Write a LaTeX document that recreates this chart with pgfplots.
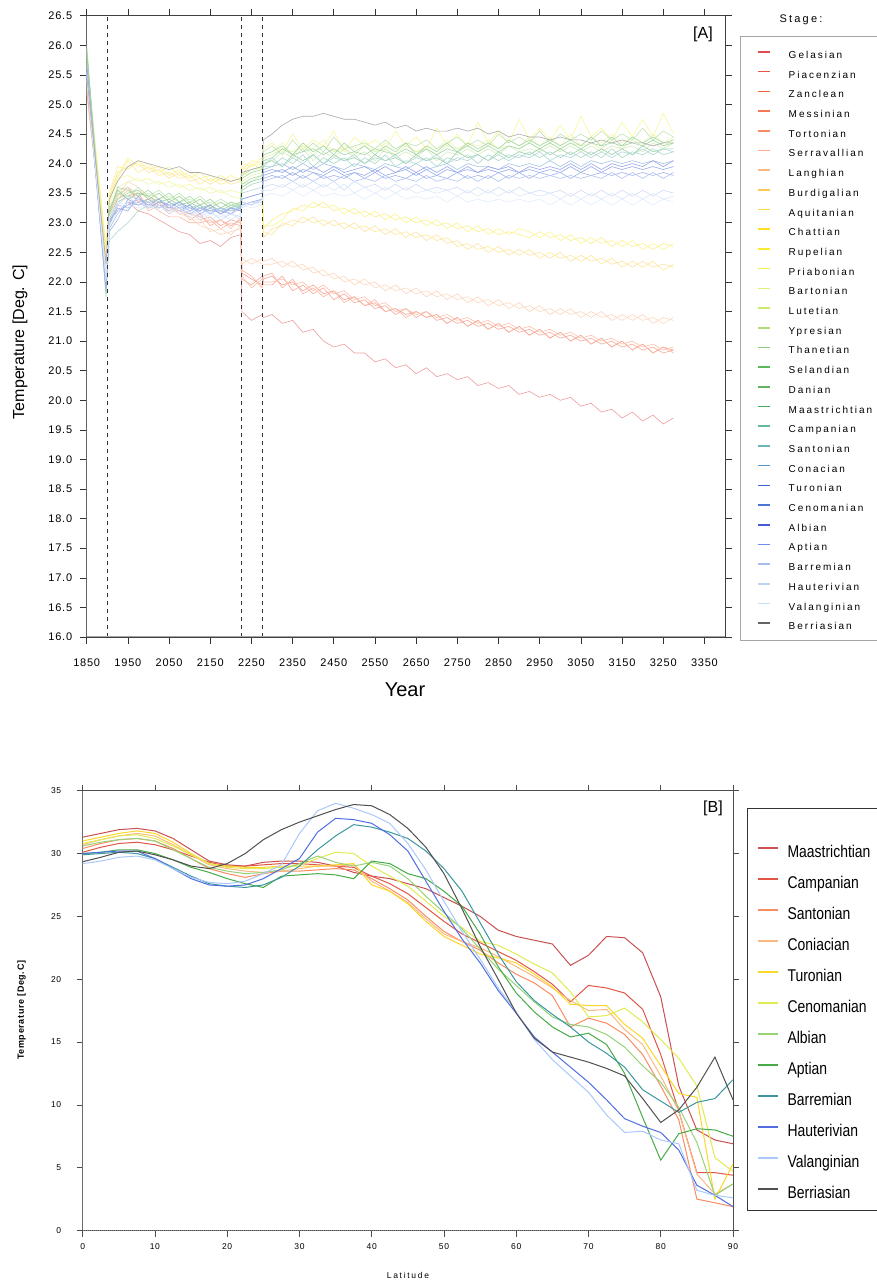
\documentclass[border=0pt]{standalone}
\usepackage{pgfplots}
\pgfplotsset{compat=1.18}
\usepackage{pgfplotstable}
\usepackage{fontspec}
\setmainfont{Liberation Sans}
\newfontfamily\tkfont[LetterSpace=7]{Liberation Sans}
\newfontfamily\lgfont[LetterSpace=20]{Liberation Sans}
\newfontfamily\nrfont[FakeStretch=0.82]{Liberation Sans}

% stage colours, top panel
\definecolor{cGel}{RGB}{225,75,75}
\definecolor{cPia}{RGB}{235,85,65}
\definecolor{cZan}{RGB}{240,95,70}
\definecolor{cMes}{RGB}{245,120,85}
\definecolor{cTor}{RGB}{248,140,100}
\definecolor{cSer}{RGB}{250,175,140}
\definecolor{cLan}{RGB}{250,185,130}
\definecolor{cBur}{RGB}{250,200,90}
\definecolor{cAqu}{RGB}{250,215,60}
\definecolor{cCha}{RGB}{250,225,40}
\definecolor{cRup}{RGB}{248,235,50}
\definecolor{cPri}{RGB}{240,240,70}
\definecolor{cBar}{RGB}{225,238,120}
\definecolor{cLut}{RGB}{205,232,110}
\definecolor{cYpr}{RGB}{175,220,130}
\definecolor{cTha}{RGB}{140,205,120}
\definecolor{cSel}{RGB}{90,185,90}
\definecolor{cDan}{RGB}{95,180,100}
\definecolor{cMaa}{RGB}{70,170,90}
\definecolor{cCam}{RGB}{100,185,150}
\definecolor{cSan}{RGB}{110,180,185}
\definecolor{cCon}{RGB}{90,150,200}
\definecolor{cTur}{RGB}{60,100,210}
\definecolor{cCen}{RGB}{80,115,215}
\definecolor{cAlb}{RGB}{70,90,215}
\definecolor{cApt}{RGB}{110,140,235}
\definecolor{cBrm}{RGB}{165,190,240}
\definecolor{cHau}{RGB}{190,210,245}
\definecolor{cVal}{RGB}{200,220,250}
\definecolor{cBer}{RGB}{100,100,100}
% bottom panel
\definecolor{bMaa}{RGB}{200,80,80}
\definecolor{bCam}{RGB}{225,85,70}
\definecolor{bSan}{RGB}{250,140,100}
\definecolor{bCon}{RGB}{250,185,130}
\definecolor{bTur}{RGB}{250,215,40}
\definecolor{bCen}{RGB}{225,235,80}
\definecolor{bAlb}{RGB}{150,210,120}
\definecolor{bApt}{RGB}{70,170,70}
\definecolor{bBrm}{RGB}{60,150,160}
\definecolor{bHau}{RGB}{80,110,225}
\definecolor{bVal}{RGB}{170,200,250}
\definecolor{bBer}{RGB}{80,80,80}

\pgfplotstableread{
x gel pia zan mes tor
1850 25.40 25.30 25.25 25.35 25.20
1897 22.20 22.35 22.25 22.40 22.30
1905 23.05 23.15 23.00 23.20 23.10
1925 23.20 23.45 23.35 23.50 23.40
1950 23.35 23.60 23.45 23.40 23.55
1975 23.20 23.35 23.50 23.30 23.45
2000 23.15 23.40 23.25 23.35 23.20
2025 23.05 23.25 23.35 23.20 23.30
2050 22.95 23.30 23.15 23.10 23.25
2075 22.85 23.15 23.25 23.10 23.20
2100 22.80 23.20 23.05 23.00 23.15
2125 22.65 23.05 23.15 23.00 23.10
2150 22.70 23.10 22.95 23.05 23.00
2175 22.60 22.95 23.05 22.90 23.05
2200 22.75 23.05 22.95 23.00 22.90
2224 22.80 23.00 23.05 22.95 23.10
2227 21.50 22.15 22.05 22.20 22.10
2250 21.35 22.05 21.95 22.10 21.90
2276 21.45 21.95 22.10 21.90 22.05
2279 21.40 22.05 21.95 22.10 22.00
2300 21.45 22.10 21.95 22.15 22.00
2325 21.30 21.95 22.10 21.90 22.05
2350 21.35 22.00 21.85 22.05 21.95
2375 21.15 21.85 21.95 21.80 22.00
2400 21.20 21.95 21.80 21.90 21.85
2425 21.00 21.80 21.90 21.75 21.95
2450 20.90 21.85 21.70 21.85 21.80
2475 20.95 21.70 21.80 21.65 21.85
2500 20.80 21.75 21.65 21.75 21.70
2525 20.80 21.60 21.70 21.60 21.75
2550 20.65 21.65 21.55 21.70 21.60
2575 20.70 21.50 21.60 21.50 21.65
2600 20.55 21.55 21.45 21.55 21.50
2625 20.60 21.45 21.55 21.40 21.55
2650 20.45 21.50 21.40 21.50 21.45
2675 20.55 21.40 21.50 21.40 21.50
2700 20.40 21.45 21.35 21.45 21.40
2725 20.45 21.30 21.40 21.30 21.45
2750 20.35 21.40 21.30 21.40 21.35
2775 20.40 21.25 21.35 21.25 21.40
2800 20.25 21.35 21.25 21.35 21.30
2825 20.30 21.20 21.30 21.20 21.35
2850 20.20 21.30 21.20 21.30 21.25
2875 20.25 21.15 21.25 21.15 21.30
2900 20.10 21.25 21.15 21.25 21.20
2925 20.15 21.10 21.20 21.10 21.25
2950 20.05 21.20 21.10 21.20 21.15
2975 20.10 21.05 21.15 21.05 21.20
3000 20.00 21.15 21.05 21.15 21.10
3025 20.05 21.00 21.10 21.00 21.15
3050 19.90 21.10 21.00 21.10 21.05
3075 19.95 20.95 21.05 20.95 21.10
3100 19.80 21.05 20.95 21.05 21.00
3125 19.85 20.90 21.00 20.90 21.05
3150 19.70 21.00 20.90 21.00 20.95
3175 19.80 20.85 20.95 20.85 21.00
3200 19.65 20.95 20.85 20.95 20.90
3225 19.75 20.80 20.90 20.80 20.95
3250 19.60 20.90 20.80 20.90 20.85
3275 19.70 20.85 20.85 20.80 20.90
}\tNeo

\pgfplotstableread{
x ser lan bur aqu cha rup
1850 25.45 25.55 25.60 25.70 25.65 25.75
1897 22.45 22.35 22.55 22.50 22.45 22.60
1905 23.20 23.30 23.45 23.35 23.50 23.40
1925 23.55 23.45 23.85 23.75 23.95 23.80
1950 23.60 23.70 23.95 24.05 23.90 24.10
1975 23.50 23.60 24.00 23.85 24.05 23.95
2000 23.45 23.40 23.85 23.95 23.90 24.00
2025 23.30 23.40 23.90 23.80 23.95 23.85
2050 23.25 23.20 23.75 23.85 23.80 23.95
2075 23.15 23.25 23.85 23.75 23.90 23.80
2100 23.10 23.05 23.70 23.80 23.75 23.85
2125 22.95 23.05 23.75 23.65 23.85 23.75
2150 22.90 22.85 23.65 23.75 23.70 23.80
2175 22.80 22.90 23.75 23.65 23.80 23.70
2200 22.85 22.80 23.65 23.70 23.70 23.80
2224 22.90 22.95 23.70 23.75 23.75 23.70
2227 22.40 22.30 23.85 23.80 23.90 24.00
2250 22.30 22.40 23.90 24.00 24.05 23.95
2276 22.40 22.30 23.95 23.90 24.00 24.10
2279 22.35 22.30 22.75 22.85 22.90 22.95
2300 22.40 22.30 22.90 22.80 23.05 22.95
2325 22.25 22.35 22.95 23.00 23.15 23.05
2350 22.35 22.25 23.05 22.95 23.20 23.25
2375 22.20 22.30 23.00 23.10 23.30 23.20
2400 22.25 22.15 23.10 23.00 23.25 23.35
2425 22.10 22.20 22.95 23.05 23.35 23.25
2450 22.15 22.05 23.05 22.95 23.20 23.30
2475 22.00 22.10 22.90 23.00 23.25 23.15
2500 22.05 21.95 23.00 22.90 23.15 23.25
2525 21.95 22.05 22.85 22.95 23.20 23.10
2550 22.00 21.90 22.95 22.85 23.10 23.20
2575 21.85 21.95 22.80 22.90 23.15 23.05
2600 21.95 21.85 22.90 22.80 23.05 23.15
2625 21.80 21.90 22.75 22.85 23.10 23.00
2650 21.90 21.80 22.85 22.75 23.00 23.10
2675 21.75 21.85 22.70 22.80 23.05 22.95
2700 21.85 21.75 22.80 22.70 22.95 23.05
2725 21.70 21.80 22.65 22.75 23.00 22.90
2750 21.80 21.70 22.70 22.60 22.90 23.00
2775 21.65 21.75 22.55 22.65 22.95 22.85
2800 21.75 21.65 22.65 22.55 22.85 22.95
2825 21.60 21.70 22.50 22.60 22.90 22.80
2850 21.70 21.60 22.60 22.50 22.80 22.90
2875 21.55 21.65 22.45 22.55 22.85 22.80
2900 21.65 21.55 22.55 22.45 22.80 22.90
2925 21.50 21.60 22.45 22.55 22.75 22.85
2950 21.60 21.50 22.50 22.40 22.85 22.75
2975 21.45 21.55 22.40 22.50 22.75 22.85
3000 21.55 21.45 22.50 22.40 22.80 22.70
3025 21.45 21.55 22.35 22.45 22.70 22.80
3050 21.50 21.40 22.45 22.35 22.75 22.65
3075 21.40 21.50 22.35 22.45 22.65 22.75
3100 21.50 21.40 22.40 22.30 22.75 22.65
3125 21.35 21.45 22.30 22.40 22.60 22.70
3150 21.45 21.35 22.35 22.25 22.70 22.60
3175 21.35 21.45 22.25 22.35 22.60 22.70
3200 21.45 21.35 22.35 22.25 22.65 22.55
3225 21.30 21.40 22.25 22.35 22.55 22.65
3250 21.40 21.30 22.30 22.20 22.65 22.55
3275 21.35 21.40 22.25 22.30 22.60 22.65
}\tMid

\pgfplotstableread{
x pri bar lut ypr tha sel dan maa cam
1850 25.80 25.85 25.90 25.95 26.00 25.90 25.85 25.95 25.70
1897 22.20 22.10 22.00 21.90 21.95 22.05 21.85 21.75 22.00
1905 23.40 23.30 23.20 23.10 23.25 23.15 23.05 23.20 23.00
1925 23.75 23.60 23.55 23.45 23.50 23.60 23.40 23.55 23.35
1950 23.80 23.70 23.50 23.60 23.45 23.55 23.50 23.40 23.45
1975 23.70 23.75 23.55 23.45 23.60 23.45 23.55 23.50 23.40
2000 23.75 23.65 23.40 23.50 23.45 23.55 23.40 23.45 23.35
2025 23.65 23.70 23.50 23.40 23.55 23.40 23.50 23.35 23.40
2050 23.70 23.60 23.35 23.45 23.40 23.50 23.35 23.40 23.30
2075 23.60 23.65 23.45 23.35 23.50 23.35 23.45 23.30 23.35
2100 23.65 23.55 23.30 23.40 23.35 23.45 23.30 23.35 23.25
2125 23.55 23.60 23.40 23.30 23.45 23.30 23.40 23.25 23.30
2150 23.60 23.50 23.25 23.35 23.30 23.40 23.25 23.30 23.20
2175 23.50 23.55 23.35 23.25 23.40 23.25 23.35 23.20 23.25
2200 23.55 23.45 23.25 23.35 23.30 23.35 23.25 23.30 23.20
2224 23.50 23.40 23.30 23.25 23.35 23.30 23.35 23.25 23.30
2227 23.90 23.80 23.70 23.65 23.80 23.75 23.65 23.60 23.55
2250 23.95 23.85 23.80 23.70 23.90 23.85 23.75 23.70 23.65
2276 24.00 23.95 23.85 23.80 23.95 23.90 23.80 23.75 23.70
2279 24.25 24.15 24.10 24.05 24.20 24.15 24.05 24.00 23.95
2300 24.35 24.20 24.15 24.05 24.30 24.20 24.10 24.05 23.95
2325 24.20 24.35 24.25 24.20 24.15 24.30 24.25 23.95 24.10
2350 24.50 24.15 24.20 24.10 24.40 24.15 24.15 24.15 24.00
2375 24.25 24.30 24.30 24.25 24.20 24.35 24.20 24.05 24.15
2400 24.40 24.25 24.15 24.05 24.35 24.20 24.25 24.15 23.95
2425 24.30 24.40 24.30 24.20 24.20 24.30 24.15 24.00 24.10
2450 24.55 24.20 24.20 24.10 24.45 24.15 24.25 24.15 24.00
2475 24.20 24.30 24.25 24.25 24.25 24.35 24.15 24.05 24.10
2500 24.45 24.25 24.15 24.10 24.30 24.20 24.20 24.10 23.95
2525 24.30 24.40 24.30 24.20 24.35 24.30 24.15 24.00 24.10
2550 24.40 24.20 24.20 24.05 24.25 24.15 24.25 24.15 24.00
2575 24.25 24.35 24.25 24.25 24.40 24.30 24.20 24.05 24.15
2600 24.55 24.25 24.15 24.10 24.25 24.20 24.15 24.10 23.95
2625 24.30 24.35 24.30 24.20 24.35 24.35 24.25 24.00 24.05
2650 24.45 24.20 24.20 24.10 24.30 24.15 24.15 24.15 24.00
2675 24.25 24.30 24.25 24.25 24.40 24.30 24.25 24.05 24.10
2700 24.60 24.25 24.15 24.05 24.25 24.20 24.15 24.10 23.95
2725 24.30 24.40 24.30 24.20 24.35 24.35 24.25 24.00 24.10
2750 24.50 24.25 24.25 24.15 24.45 24.20 24.20 24.20 24.05
2775 24.30 24.35 24.30 24.25 24.30 24.35 24.30 24.10 24.15
2800 24.70 24.30 24.20 24.15 24.40 24.25 24.20 24.15 24.00
2825 24.35 24.40 24.35 24.25 24.30 24.35 24.30 24.05 24.15
2850 24.55 24.25 24.25 24.15 24.50 24.25 24.20 24.20 24.05
2875 24.35 24.40 24.30 24.30 24.35 24.40 24.30 24.10 24.15
2900 24.75 24.30 24.25 24.20 24.45 24.30 24.25 24.20 24.10
2925 24.40 24.45 24.35 24.25 24.35 24.40 24.35 24.15 24.20
2950 24.60 24.30 24.25 24.20 24.55 24.30 24.25 24.25 24.10
2975 24.40 24.45 24.35 24.30 24.35 24.40 24.35 24.15 24.20
3000 24.65 24.30 24.25 24.20 24.50 24.30 24.25 24.25 24.10
3025 24.40 24.50 24.35 24.30 24.40 24.40 24.35 24.15 24.20
3050 24.80 24.30 24.30 24.20 24.50 24.30 24.25 24.25 24.10
3075 24.45 24.45 24.35 24.30 24.40 24.45 24.35 24.15 24.20
3100 24.60 24.35 24.25 24.20 24.55 24.30 24.30 24.25 24.10
3125 24.40 24.50 24.40 24.30 24.40 24.45 24.35 24.15 24.25
3150 24.70 24.35 24.25 24.25 24.50 24.30 24.30 24.25 24.10
3175 24.45 24.45 24.40 24.30 24.40 24.45 24.35 24.15 24.20
3200 24.75 24.35 24.30 24.20 24.60 24.35 24.30 24.30 24.15
3225 24.45 24.50 24.40 24.35 24.40 24.45 24.40 24.20 24.25
3250 24.85 24.35 24.30 24.25 24.55 24.35 24.30 24.25 24.15
3275 24.50 24.45 24.40 24.35 24.45 24.40 24.35 24.25 24.20
}\tGrn

\pgfplotstableread{
x san con tur cen alb apt brm hau val ber
1850 25.65 25.55 25.60 25.50 25.70 25.45 25.50 25.55 25.40 25.50
1897 21.80 21.95 22.00 21.85 21.90 22.05 22.10 22.00 22.15 22.30
1905 22.70 22.90 23.00 22.85 23.05 22.95 23.05 22.95 23.10 23.40
1925 22.85 23.15 23.25 23.05 23.20 23.30 23.30 23.20 23.35 23.70
1950 23.00 23.35 23.20 23.40 23.30 23.25 23.45 23.35 23.30 23.95
1975 23.20 23.30 23.45 23.30 23.40 23.35 23.30 23.40 23.25 24.05
2000 23.30 23.40 23.25 23.35 23.30 23.25 23.35 23.25 23.30 24.00
2025 23.25 23.30 23.35 23.25 23.40 23.30 23.25 23.30 23.20 23.95
2050 23.35 23.25 23.30 23.35 23.25 23.20 23.30 23.15 23.25 23.90
2075 23.25 23.35 23.20 23.25 23.35 23.30 23.20 23.25 23.15 23.95
2100 23.30 23.20 23.30 23.15 23.25 23.20 23.25 23.10 23.20 23.85
2125 23.20 23.30 23.15 23.25 23.20 23.25 23.10 23.20 23.05 23.85
2150 23.30 23.15 23.25 23.20 23.30 23.15 23.20 23.05 23.15 23.80
2175 23.20 23.25 23.15 23.20 23.15 23.25 23.05 23.15 23.10 23.75
2200 23.25 23.20 23.25 23.15 23.25 23.15 23.15 23.05 23.15 23.70
2224 23.30 23.25 23.20 23.25 23.20 23.30 23.10 23.15 23.05 23.75
2227 23.50 23.40 23.30 23.35 23.40 23.30 23.35 23.25 23.30 23.85
2250 23.55 23.45 23.35 23.30 23.45 23.35 23.30 23.35 23.25 23.90
2276 23.60 23.50 23.40 23.40 23.50 23.35 23.40 23.30 23.30 23.95
2279 23.95 23.90 23.80 23.75 23.85 23.70 23.60 23.55 23.45 24.40
2300 24.10 23.95 23.85 23.80 23.90 23.75 23.65 23.55 23.50 24.50
2325 23.95 24.00 23.90 23.75 23.85 23.80 23.60 23.65 23.45 24.65
2350 24.10 23.90 23.80 23.85 23.95 23.70 23.70 23.55 23.55 24.75
2375 24.00 24.00 23.90 23.75 23.85 23.80 23.60 23.65 23.45 24.80
2400 24.15 23.90 23.85 23.85 23.95 23.70 23.70 23.55 23.55 24.80
2425 24.00 24.00 23.80 23.75 23.85 23.80 23.60 23.65 23.45 24.85
2450 24.10 23.95 23.90 23.80 23.95 23.70 23.70 23.55 23.50 24.80
2475 24.05 23.90 23.80 23.75 23.85 23.80 23.55 23.65 23.45 24.75
2500 24.15 24.00 23.85 23.85 23.90 23.70 23.70 23.50 23.50 24.75
2525 24.00 23.95 23.80 23.75 23.95 23.75 23.60 23.60 23.40 24.70
2550 24.10 23.90 23.90 23.85 23.85 23.70 23.65 23.50 23.50 24.65
2575 24.05 24.00 23.80 23.75 23.95 23.80 23.55 23.60 23.40 24.70
2600 24.15 23.95 23.85 23.80 23.85 23.70 23.65 23.50 23.50 24.60
2625 24.00 23.90 23.90 23.75 23.95 23.75 23.55 23.60 23.40 24.65
2650 24.10 24.00 23.80 23.85 23.85 23.70 23.65 23.50 23.45 24.55
2675 24.05 23.90 23.90 23.75 23.95 23.80 23.55 23.55 23.40 24.60
2700 24.15 23.95 23.80 23.80 23.85 23.70 23.60 23.50 23.45 24.55
2725 24.00 24.00 23.90 23.75 23.95 23.75 23.55 23.55 23.35 24.55
2750 24.10 23.90 23.85 23.85 23.85 23.70 23.60 23.45 23.45 24.60
2775 24.05 24.00 23.90 23.75 23.95 23.80 23.50 23.55 23.35 24.55
2800 24.15 23.95 23.85 23.80 23.85 23.70 23.60 23.45 23.40 24.60
2825 24.05 23.95 23.90 23.75 23.95 23.80 23.50 23.55 23.35 24.50
2850 24.15 23.90 23.85 23.85 23.90 23.70 23.60 23.45 23.40 24.55
2875 24.05 24.00 23.90 23.75 23.95 23.80 23.50 23.55 23.35 24.45
2900 24.15 23.95 23.85 23.85 23.85 23.75 23.60 23.45 23.40 24.50
2925 24.10 24.00 23.90 23.75 23.95 23.80 23.50 23.50 23.35 24.45
2950 24.20 23.95 23.85 23.85 23.90 23.75 23.55 23.45 23.40 24.45
2975 24.05 24.05 23.90 23.80 23.95 23.80 23.50 23.50 23.30 24.40
3000 24.15 23.95 23.85 23.85 23.90 23.75 23.55 23.40 23.40 24.45
3025 24.10 24.05 23.95 23.75 24.00 23.80 23.45 23.50 23.30 24.40
3050 24.20 23.95 23.85 23.85 23.90 23.75 23.55 23.40 23.40 24.40
3075 24.10 24.05 23.95 23.80 24.00 23.80 23.45 23.50 23.30 24.35
3100 24.20 24.00 23.85 23.85 23.90 23.75 23.55 23.40 23.40 24.40
3125 24.10 24.05 23.95 23.80 24.00 23.85 23.45 23.50 23.30 24.35
3150 24.20 24.00 23.90 23.85 23.95 23.75 23.55 23.40 23.40 24.40
3175 24.15 24.05 23.95 23.80 24.00 23.85 23.45 23.50 23.30 24.35
3200 24.25 24.00 23.90 23.85 23.95 23.75 23.55 23.40 23.40 24.35
3225 24.15 24.05 23.95 23.80 24.05 23.85 23.45 23.50 23.30 24.30
3250 24.25 24.00 23.90 23.85 23.95 23.75 23.55 23.40 23.40 24.35
3275 24.20 24.05 23.95 23.80 24.05 23.85 23.50 23.45 23.35 24.35
}\tBlu

\begin{document}
\begin{tikzpicture}
\useasboundingbox (0pt,0pt) rectangle (877pt,1283pt);

% ---------------- panel A ----------------
\begin{axis}[
    at={(86.7pt,646pt)}, anchor=south west,
    scale only axis, width=638.3pt, height=621.3pt,
    xmin=1850, xmax=3400, ymin=16, ymax=26.5,
    xtick={1850,1950,...,3350},
    ytick={16,16.5,...,26.5},
    tick pos=both, tick align=outside,
    major tick length=7pt,
    tick style={black!80, line width=0.6pt},
    axis line style={black!75, line width=0.7pt},
    xticklabel style={font=\tkfont\fontsize{11}{11}\selectfont, /pgf/number format/1000 sep={}, yshift=-11pt},
    yticklabel style={font=\tkfont\fontsize{11}{11}\selectfont, /pgf/number format/.cd, fixed, fixed zerofill, precision=1, /tikz/.cd, xshift=-4pt},
    /pgf/number format/assume math mode=true,
    xlabel={Year},
    xlabel style={font=\fontsize{20}{20}\selectfont, at={(axis description cs:0.4987,-0.0853)}, anchor=center},
    ylabel={Temperature [Deg. C]},
    ylabel style={font=\fontsize{16}{16}\selectfont, at={(axis description cs:-0.1045,0.475)}, anchor=center},
    every axis plot/.append style={line width=0.6pt},
    legend style={at={(axis description cs:1.050,0.9525)}, anchor=north west,
        draw=none, fill=none, inner sep=0pt, row sep=0pt,
        font=\lgfont\fontsize{10}{10}\selectfont,
        nodes={inner sep=0pt, text height=13pt, text depth=6.7pt},
        /tikz/every odd column/.append style={column sep=18pt}},
    legend cell align=left,
    legend image code/.code={\draw[#1, line width=1.6pt] (0pt,3.3pt) -- (12pt,3.3pt);},
]
\addplot[cGel!55!white, forget plot] table[x=x,y=gel]{\tNeo};
\addplot[cPia!55!white, forget plot] table[x=x,y=pia]{\tNeo};
\addplot[cZan!55!white, forget plot] table[x=x,y=zan]{\tNeo};
\addplot[cMes!55!white, forget plot] table[x=x,y=mes]{\tNeo};
\addplot[cTor!55!white, forget plot] table[x=x,y=tor]{\tNeo};
\addplot[cSer!55!white, forget plot] table[x=x,y=ser]{\tMid};
\addplot[cLan!55!white, forget plot] table[x=x,y=lan]{\tMid};
\addplot[cBur!55!white, forget plot] table[x=x,y=bur]{\tMid};
\addplot[cAqu!55!white, forget plot] table[x=x,y=aqu]{\tMid};
\addplot[cCha!55!white, forget plot] table[x=x,y=cha]{\tMid};
\addplot[cRup!55!white, forget plot] table[x=x,y=rup]{\tMid};
\addplot[cPri!55!white, forget plot] table[x=x,y=pri]{\tGrn};
\addplot[cBar!55!white, forget plot] table[x=x,y=bar]{\tGrn};
\addplot[cLut!55!white, forget plot] table[x=x,y=lut]{\tGrn};
\addplot[cYpr!55!white, forget plot] table[x=x,y=ypr]{\tGrn};
\addplot[cTha!55!white, forget plot] table[x=x,y=tha]{\tGrn};
\addplot[cSel!55!white, forget plot] table[x=x,y=sel]{\tGrn};
\addplot[cDan!55!white, forget plot] table[x=x,y=dan]{\tGrn};
\addplot[cMaa!55!white, forget plot] table[x=x,y=maa]{\tGrn};
\addplot[cCam!55!white, forget plot] table[x=x,y=cam]{\tGrn};
\addplot[cSan!55!white, forget plot] table[x=x,y=san]{\tBlu};
\addplot[cCon!55!white, forget plot] table[x=x,y=con]{\tBlu};
\addplot[cTur!55!white, forget plot] table[x=x,y=tur]{\tBlu};
\addplot[cCen!55!white, forget plot] table[x=x,y=cen]{\tBlu};
\addplot[cAlb!55!white, forget plot] table[x=x,y=alb]{\tBlu};
\addplot[cApt!55!white, forget plot] table[x=x,y=apt]{\tBlu};
\addplot[cBrm!55!white, forget plot] table[x=x,y=brm]{\tBlu};
\addplot[cHau!55!white, forget plot] table[x=x,y=hau]{\tBlu};
\addplot[cVal!55!white, forget plot] table[x=x,y=val]{\tBlu};
\addplot[cBer!55!white, forget plot] table[x=x,y=ber]{\tBlu};
\addlegendimage{cGel} \addlegendentry{Gelasian}
\addlegendimage{cPia} \addlegendentry{Piacenzian}
\addlegendimage{cZan} \addlegendentry{Zanclean}
\addlegendimage{cMes} \addlegendentry{Messinian}
\addlegendimage{cTor} \addlegendentry{Tortonian}
\addlegendimage{cSer} \addlegendentry{Serravallian}
\addlegendimage{cLan} \addlegendentry{Langhian}
\addlegendimage{cBur} \addlegendentry{Burdigalian}
\addlegendimage{cAqu} \addlegendentry{Aquitanian}
\addlegendimage{cCha} \addlegendentry{Chattian}
\addlegendimage{cRup} \addlegendentry{Rupelian}
\addlegendimage{cPri} \addlegendentry{Priabonian}
\addlegendimage{cBar} \addlegendentry{Bartonian}
\addlegendimage{cLut} \addlegendentry{Lutetian}
\addlegendimage{cYpr} \addlegendentry{Ypresian}
\addlegendimage{cTha} \addlegendentry{Thanetian}
\addlegendimage{cSel} \addlegendentry{Selandian}
\addlegendimage{cDan} \addlegendentry{Danian}
\addlegendimage{cMaa} \addlegendentry{Maastrichtian}
\addlegendimage{cCam} \addlegendentry{Campanian}
\addlegendimage{cSan} \addlegendentry{Santonian}
\addlegendimage{cCon} \addlegendentry{Conacian}
\addlegendimage{cTur} \addlegendentry{Turonian}
\addlegendimage{cCen} \addlegendentry{Cenomanian}
\addlegendimage{cAlb} \addlegendentry{Albian}
\addlegendimage{cApt} \addlegendentry{Aptian}
\addlegendimage{cBrm} \addlegendentry{Barremian}
\addlegendimage{cHau} \addlegendentry{Hauterivian}
\addlegendimage{cVal} \addlegendentry{Valanginian}
\addlegendimage{cBer} \addlegendentry{Berriasian}
\draw[black!80, line width=0.8pt, dash pattern=on 4pt off 4pt] (axis cs:1900,16) -- (axis cs:1900,26.5);
\draw[black!80, line width=0.8pt, dash pattern=on 4pt off 4pt] (axis cs:2225,16) -- (axis cs:2225,26.5);
\draw[black!80, line width=0.8pt, dash pattern=on 4pt off 4pt] (axis cs:2277,16) -- (axis cs:2277,26.5);
\draw[gray!70, line width=1.6pt] (axis description cs:0,1) -- (axis description cs:0,0) -- (axis description cs:1,0);
\node[font=\fontsize{16}{16}\selectfont] at (axis description cs:0.9655,0.9705) {[A]};
\end{axis}

\draw[gray!70, line width=0.8pt] (740pt,1247pt) rectangle (890pt,643pt);
\node[font=\lgfont\fontsize{11}{11}\selectfont] at (801pt,1263pt) {Stage:};

% ---------------- panel B ----------------
\begin{axis}[
    at={(82.7pt,52.5pt)}, anchor=south west,
    scale only axis, width=650.3pt, height=439.8pt,
    xmin=0, xmax=90, ymin=0, ymax=35,
    xtick={0,10,...,90}, ytick={0,5,...,35},
    tick pos=both, tick align=outside,
    major tick length=6pt,
    tick style={black!70, line width=0.5pt},
    axis line style={black!70, line width=0.7pt},
    ticklabel style={font=\tkfont\fontsize{8.5}{8.5}\selectfont},
    xticklabel style={yshift=-4pt},
    yticklabel style={xshift=-12pt},
    /pgf/number format/assume math mode=true,
    xlabel={Latitude},
    xlabel style={font=\lgfont\fontsize{8.5}{8.5}\selectfont, at={(axis description cs:0.5002,-0.1012)}, anchor=center},
    ylabel={\textbf{Temperature [Deg.C]}},
    ylabel style={font=\tkfont\fontsize{9}{9}\selectfont, at={(axis description cs:-0.0941,0.5014)}, anchor=center},
    every axis plot/.append style={line width=1pt},
    legend style={at={(axis description cs:1.0369,0.8936)}, anchor=north west,
        draw=none, fill=none, inner sep=0pt, row sep=0pt,
        font=\nrfont\fontsize{17}{17}\selectfont,
        nodes={inner sep=0pt, text height=19.5pt, text depth=11.5pt},
        /tikz/every odd column/.append style={column sep=9pt}},
    legend cell align=left,
    legend image code/.code={\draw[#1, line width=1.4pt] (0pt,5pt) -- (20pt,5pt);},
]
\addplot[bMaa] coordinates {(0,31.3)(2.5,31.6)(5,31.9)(7.5,32.0)(10,31.8)(12.5,31.2)(15,30.3)(17.5,29.4)(20,29.1)(22.5,29.0)(25,29.3)(27.5,29.4)(30,29.4)(32.5,29.3)(35,29.0)(37.5,28.5)(40,28.2)(42.5,28.0)(45,27.6)(47.5,27.2)(50,26.5)(52.5,25.8)(55,25.0)(57.5,23.9)(60,23.4)(62.5,23.1)(65,22.8)(67.5,21.1)(70,21.9)(72.5,23.4)(75,23.3)(77.5,22.1)(80,18.6)(82.5,11.5)(85,8.0)(87.5,7.2)(90,6.9)};
\addlegendentry{Maastrichtian}
\addplot[bCam] coordinates {(0,30.1)(2.5,30.5)(5,30.8)(7.5,30.9)(10,30.7)(12.5,30.3)(15,29.8)(17.5,29.3)(20,29.0)(22.5,29.0)(25,29.1)(27.5,29.2)(30,29.2)(32.5,29.1)(35,29.0)(37.5,28.9)(40,28.2)(42.5,27.6)(45,26.8)(47.5,25.7)(50,24.6)(52.5,23.6)(55,22.9)(57.5,22.2)(60,21.5)(62.5,20.6)(65,19.6)(67.5,18.2)(70,19.5)(72.5,19.3)(75,18.9)(77.5,17.6)(80,14.0)(82.5,9.5)(85,4.6)(87.5,4.6)(90,4.4)};
\addlegendentry{Campanian}
\addplot[bSan] coordinates {(0,30.4)(2.5,30.8)(5,31.1)(7.5,31.2)(10,31.0)(12.5,30.4)(15,29.6)(17.5,28.8)(20,28.4)(22.5,28.1)(25,28.4)(27.5,28.6)(30,28.6)(32.5,28.7)(35,28.8)(37.5,28.7)(40,28.0)(42.5,27.2)(45,26.3)(47.5,25.0)(50,23.8)(52.5,23.0)(55,22.3)(57.5,21.3)(60,20.4)(62.5,19.7)(65,18.7)(67.5,16.2)(70,16.9)(72.5,16.5)(75,15.6)(77.5,14.0)(80,11.5)(82.5,8.8)(85,2.5)(87.5,2.2)(90,1.9)};
\addlegendentry{Santonian}
\addplot[bCon] coordinates {(0,30.7)(2.5,31.1)(5,31.4)(7.5,31.6)(10,31.4)(12.5,30.7)(15,29.9)(17.5,29.1)(20,28.8)(22.5,28.6)(25,28.5)(27.5,28.6)(30,28.8)(32.5,29.0)(35,29.0)(37.5,29.1)(40,27.8)(42.5,27.0)(45,26.1)(47.5,24.8)(50,23.6)(52.5,23.0)(55,22.5)(57.5,21.8)(60,21.0)(62.5,20.2)(65,19.3)(67.5,18.3)(70,17.5)(72.5,17.6)(75,16.0)(77.5,14.8)(80,12.3)(82.5,9.5)(85,4.5)(87.5,2.9)(90,3.7)};
\addlegendentry{Coniacian}
\addplot[bTur] coordinates {(0,31.0)(2.5,31.3)(5,31.6)(7.5,31.8)(10,31.6)(12.5,30.9)(15,30.0)(17.5,29.2)(20,29.0)(22.5,28.9)(25,28.9)(27.5,29.0)(30,29.0)(32.5,29.0)(35,29.1)(37.5,29.2)(40,27.5)(42.5,27.0)(45,26.0)(47.5,24.6)(50,23.4)(52.5,22.7)(55,22.0)(57.5,21.7)(60,21.3)(62.5,20.4)(65,19.4)(67.5,18.0)(70,17.9)(72.5,17.9)(75,16.4)(77.5,15.3)(80,13.1)(82.5,10.9)(85,10.6)(87.5,2.5)(90,5.3)};
\addlegendentry{Turonian}
\addplot[bCen] coordinates {(0,30.8)(2.5,31.1)(5,31.4)(7.5,31.5)(10,31.2)(12.5,30.6)(15,29.9)(17.5,29.2)(20,28.9)(22.5,28.8)(25,28.8)(27.5,28.9)(30,29.1)(32.5,29.6)(35,30.1)(37.5,30.0)(40,29.0)(42.5,28.2)(45,27.4)(47.5,26.2)(50,25.0)(52.5,24.1)(55,23.0)(57.5,22.7)(60,22.0)(62.5,21.2)(65,20.5)(67.5,19.0)(70,17.0)(72.5,17.1)(75,17.7)(77.5,16.6)(80,15.2)(82.5,13.7)(85,11.5)(87.5,5.8)(90,4.7)};
\addlegendentry{Cenomanian}
\addplot[bAlb] coordinates {(0,30.6)(2.5,30.9)(5,31.1)(7.5,31.2)(10,31.0)(12.5,30.3)(15,29.6)(17.5,28.9)(20,28.6)(22.5,28.4)(25,28.5)(27.5,28.7)(30,29.2)(32.5,29.8)(35,29.3)(37.5,29.0)(40,29.3)(42.5,29.0)(45,28.0)(47.5,26.6)(50,25.3)(52.5,24.0)(55,22.4)(57.5,20.8)(60,19.5)(62.5,18.2)(65,17.0)(67.5,16.4)(70,16.2)(72.5,15.6)(75,14.6)(77.5,13.1)(80,11.8)(82.5,9.8)(85,7.0)(87.5,2.8)(90,3.7)};
\addlegendentry{Albian}
\addplot[bApt] coordinates {(0,30.0)(2.5,30.1)(5,30.3)(7.5,30.3)(10,30.0)(12.5,29.5)(15,28.9)(17.5,28.5)(20,28.0)(22.5,27.6)(25,27.3)(27.5,28.2)(30,28.3)(32.5,28.4)(35,28.3)(37.5,28.0)(40,29.4)(42.5,29.2)(45,28.4)(47.5,28.0)(50,27.0)(52.5,25.8)(55,23.6)(57.5,21.0)(60,18.9)(62.5,17.4)(65,16.2)(67.5,15.4)(70,15.7)(72.5,14.8)(75,12.5)(77.5,9.0)(80,5.6)(82.5,7.7)(85,8.1)(87.5,8.0)(90,7.5)};
\addlegendentry{Aptian}
\addplot[bBrm] coordinates {(0,29.9)(2.5,30.0)(5,30.1)(7.5,30.0)(10,29.6)(12.5,28.9)(15,28.2)(17.5,27.6)(20,27.4)(22.5,27.3)(25,27.5)(27.5,28.1)(30,29.0)(32.5,30.3)(35,31.4)(37.5,32.3)(40,32.1)(42.5,31.7)(45,31.2)(47.5,30.2)(50,28.8)(52.5,27.0)(55,24.5)(57.5,22.0)(60,19.8)(62.5,18.3)(65,17.2)(67.5,16.2)(70,15.0)(72.5,14.1)(75,13.0)(77.5,11.2)(80,10.3)(82.5,9.4)(85,10.2)(87.5,10.5)(90,12.0)};
\addlegendentry{Barremian}
\addplot[bHau] coordinates {(0,30.0)(2.5,30.1)(5,30.2)(7.5,30.2)(10,29.6)(12.5,28.8)(15,28.0)(17.5,27.5)(20,27.4)(22.5,27.5)(25,28.0)(27.5,28.8)(30,29.6)(32.5,31.7)(35,32.8)(37.5,32.7)(40,32.4)(42.5,31.5)(45,30.2)(47.5,27.8)(50,25.4)(52.5,23.2)(55,21.3)(57.5,19.1)(60,17.3)(62.5,15.4)(65,14.2)(67.5,13.0)(70,11.8)(72.5,10.4)(75,8.9)(77.5,8.3)(80,7.8)(82.5,6.4)(85,3.6)(87.5,2.8)(90,1.9)};
\addlegendentry{Hauterivian}
\addplot[bVal] coordinates {(0,29.2)(2.5,29.4)(5,29.7)(7.5,29.8)(10,29.5)(12.5,28.8)(15,28.1)(17.5,27.7)(20,27.6)(22.5,27.8)(25,28.4)(27.5,29.1)(30,31.6)(32.5,33.4)(35,34.0)(37.5,33.6)(40,33.1)(42.5,32.4)(45,30.8)(47.5,28.7)(50,26.2)(52.5,23.8)(55,21.6)(57.5,19.3)(60,17.4)(62.5,15.2)(65,13.6)(67.5,12.3)(70,11.0)(72.5,9.2)(75,7.8)(77.5,7.9)(80,7.2)(82.5,6.9)(85,3.2)(87.5,2.8)(90,2.6)};
\addlegendentry{Valanginian}
\addplot[bBer] coordinates {(0,29.35)(2.5,29.7)(5,30.1)(7.5,30.2)(10,29.9)(12.5,29.5)(15,29.0)(17.5,28.8)(20,29.2)(22.5,30.0)(25,31.1)(27.5,31.9)(30,32.5)(32.5,33.0)(35,33.5)(37.5,33.9)(40,33.8)(42.5,33.1)(45,32.0)(47.5,30.5)(50,28.4)(52.5,25.6)(55,22.6)(57.5,20.0)(60,17.3)(62.5,15.3)(65,14.2)(67.5,13.8)(70,13.4)(72.5,12.9)(75,12.3)(77.5,10.5)(80,8.6)(82.5,9.6)(85,11.4)(87.5,13.8)(90,10.4)};
\addlegendentry{Berriasian}
\draw[gray!70, line width=1.2pt] (axis description cs:0,0) -- (axis description cs:0,1);
\draw[gray, line width=1.6pt, dash pattern=on 1pt off 1pt] (axis cs:-0.5,0) -- (axis cs:90,0);
\node[font=\fontsize{16}{16}\selectfont] at (axis description cs:0.9692,0.9607) {[B]};
\end{axis}

\draw[black!80, line width=0.8pt] (747pt,475pt) rectangle (890pt,73pt);
\end{tikzpicture}
\end{document}
